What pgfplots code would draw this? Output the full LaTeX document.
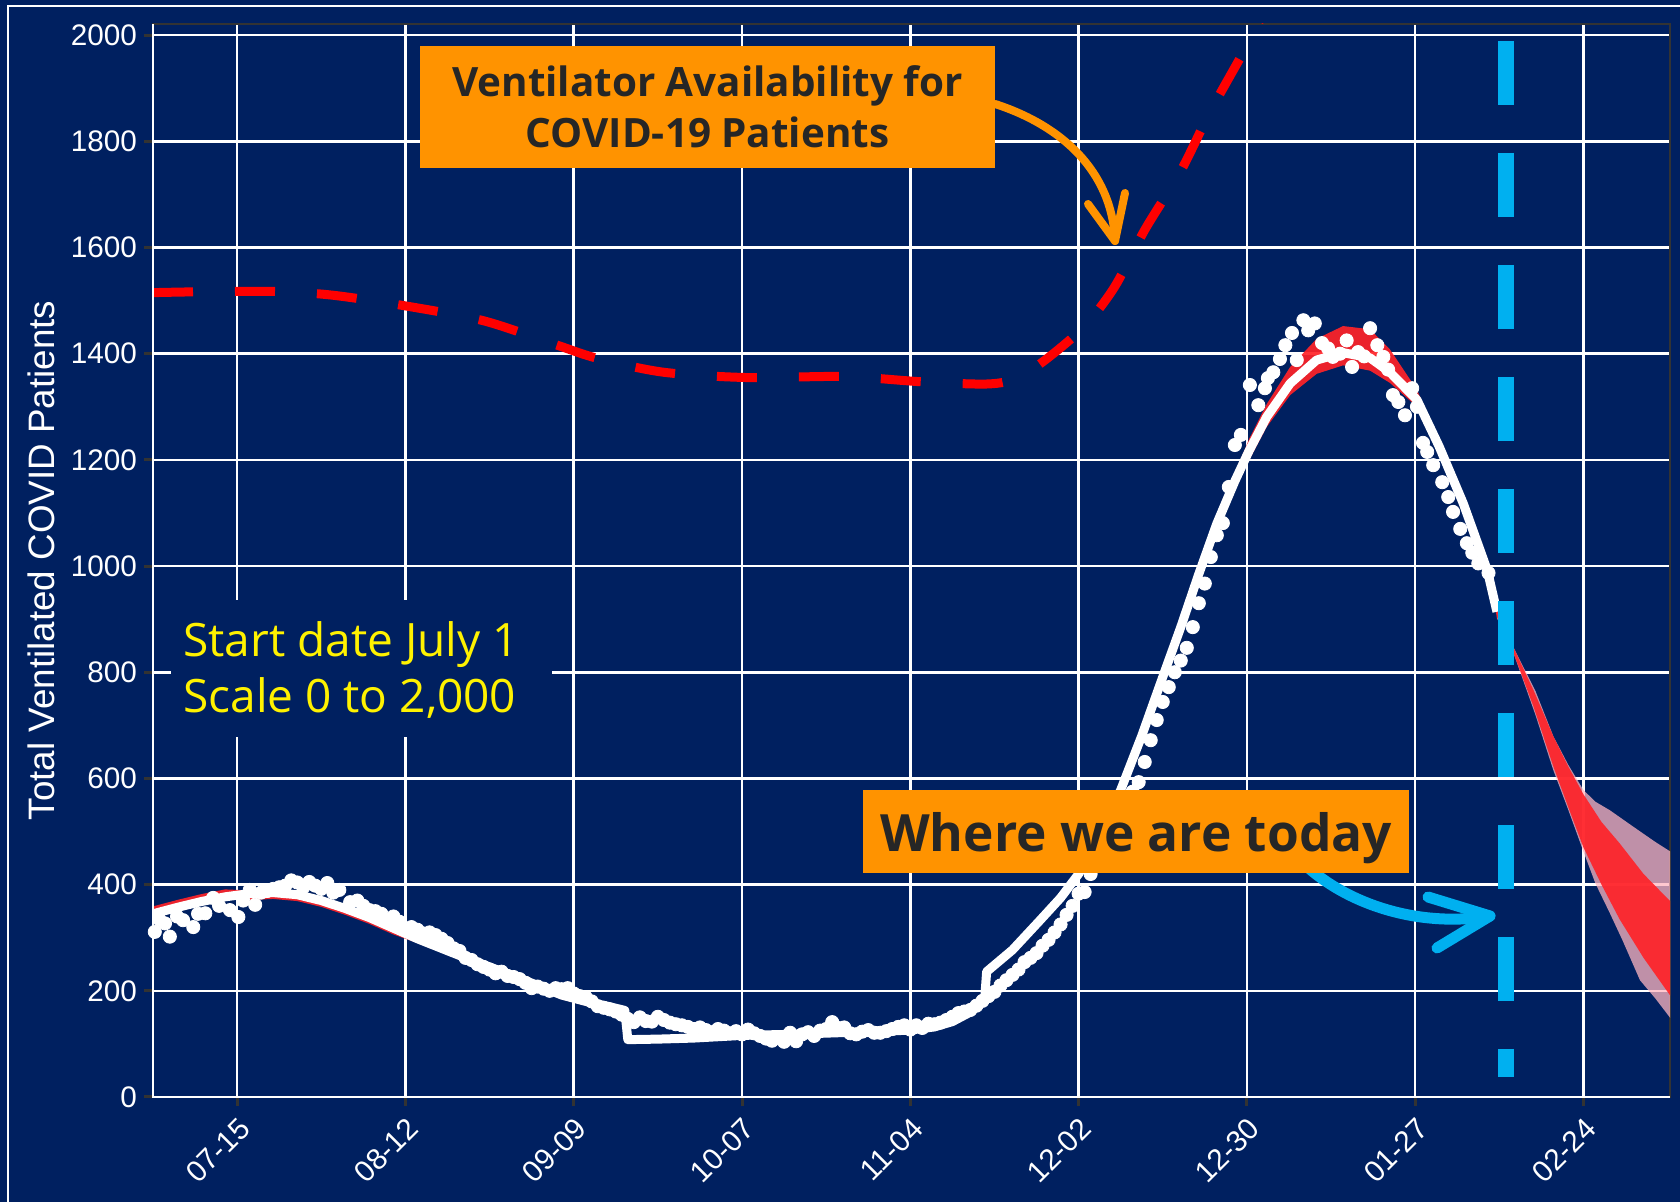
\documentclass[border=0pt]{standalone}
\usepackage{fontspec}
\setmainfont{Liberation Sans}
\newfontfamily\ann{Open Sans}
\usepackage{pgfplots}
\pgfplotsset{compat=1.18}

\definecolor{navy}{RGB}{0,32,96}
\definecolor{tickgray}{RGB}{51,51,51}
\definecolor{boxorange}{RGB}{255,147,0}
\definecolor{boxtext}{RGB}{38,38,38}
\definecolor{todayblue}{RGB}{0,176,240}
\definecolor{bandred}{RGB}{255,35,40}
\definecolor{bandpink}{RGB}{255,182,193}

\begin{document}
\begin{tikzpicture}
\fill[navy] (0,0) rectangle (840pt,601pt);
\useasboundingbox (0,0) rectangle (840pt,601pt);
\draw[white, line width=1pt] (4pt,-5pt) -- (4pt,598pt) -- (845pt,598pt);

\begin{axis}[
  at={(76.5pt,52.5pt)}, anchor=south west,
  scale only axis, width=758.5pt, height=536.5pt,
  xmin=0, xmax=252.4, ymin=0, ymax=2021,
  axis line style={draw=tickgray, line width=1pt},
  grid=major, major grid style={white, line width=1.3pt},
  tick align=outside, major tick length=4.5pt,
  tick style={draw=tickgray, line width=1.5pt},
  tick pos=left,
  xtick={14,42,70,98,126,154,182,210,238},
  xticklabels={07-15,08-12,09-09,10-07,11-04,12-02,12-30,01-27,02-24},
  ytick={0,200,...,2000},
  /pgf/number format/1000 sep={},
  /pgf/number format/assume math mode=true,
  ticklabel style={white, font=\fontsize{14.85}{17}\selectfont},
  xticklabel style={rotate=45, anchor=north east},
  ylabel={Total Ventilated COVID Patients},
  ylabel style={white, font=\fontsize{18.4}{22}\selectfont,
    at={(axis description cs:-0.0738,0.5)}, anchor=center},
]

% wide projection band
\addplot[draw=none, fill=bandpink, fill opacity=0.75] coordinates {
(223.6,922)(226.3,848)(230,765)(233,679)(235.5,625)(238,578)(240,556)(242.4,540)(246.3,509)(250,480)(252.5,462)
(252.5,148)(250,185)(247.4,220)(244.5,295)(242.4,346)(240,402)(238,462)(235.5,540)(233,615)(230,720)(226.3,838)(223.6,902)
} -- cycle;

% model interval
\addplot[draw=none, fill=bandred, fill opacity=0.92] coordinates {
(0,359)(4,371)(8,382)(12,391)(16,389)(20,391)(24,387)(28,376)(32,361)(36,344)(40,324)(44,304)
(48,286)(52,268)(56,251)(60,234)(64,216)(68,198)(72,186)(76,176)(78.5,170)(79,115)(84,116)
(90,118)(98,123)(106,125)(114,128)(120,130)(126,133)(130,139)(133,149)(136,167)(138.4,196)
(138.7,243)(143,284)(147.6,340)(151,383)(154,428)(157.5,504)(161,588)(164.5,690)(168,801)
(171,896)(174,996)(177,1092)(180,1175)(182.4,1240)(185.3,1305)(189.2,1375)(193.6,1428)
(198,1452)(202.5,1446)(205.8,1408)(210.3,1332)(214,1238)(218,1128)(222,1000)(223.6,922)
(226.3,848)(229.7,766)(233,679)(235.5,622)(238,570)(241,518)(244,478)(248,420)(252.5,368)
(252.5,190)(248,262)(244,335)(241,400)(238,470)(235.5,545)(233,622)(229.7,735)(226.3,838)(223.6,904)(222,982)
(218,1108)(214,1215)(210.3,1300)(205.8,1345)(202.5,1368)(198,1378)(193.6,1362)(189.2,1322)
(185.3,1262)(182.4,1200)(180,1148)(177,1068)(174,974)(171,874)(168,780)(164.5,670)(161,568)
(157.5,486)(154,412)(151,367)(147.6,325)(143,270)(138.7,229)(138.4,182)(136,153)(133,135)
(130,125)(126,119)(120,116)(114,114)(106,111)(98,109)(90,104)(84,102)(79,101)(78.5,155)
(76,162)(72,172)(68,184)(64,202)(60,220)(56,237)(52,254)(48,272)(44,290)(40,306)(36,326)
(32,343)(28,358)(24,369)(20,373)(16,371)(12,372)(8,363)(4,352)(0,340)
} -- cycle;

% model fit
\addplot[white, line width=4.5pt, line join=round] coordinates {
(0,345)(4,357)(8,368)(12,377)(16,383)(20,385)(24,381)(28,370)(32,355)(36,338)(40,318)
(44,298)(48,280)(52,262)(56,245)(60,228)(64,210)(68,192)(72,180)(76,170)(78.5,163)(79,108)
(84,109)(90,111)(98,116)(106,118)(114,121)(120,123)(126,126)(130,132)(133,142)(136,160)
(138.4,189)(138.7,236)(143,277)(147.6,333)(151,375)(154,420)(157.5,495)(161,578)(164.5,680)
(168,791)(171,885)(174,985)(177,1080)(180,1160)(182.4,1218)(185.3,1281)(189.2,1344)
(193.6,1388)(198,1402)(202.5,1392)(205.8,1365)(210.3,1313)(214,1225)(218,1118)(222,992)
(223.6,914)
};

% observed patients
\addplot[only marks, mark=*, mark size=3.3pt, mark options={draw=white, fill=white}] coordinates {
(0.3,311)(1,335)(2,327)(2.8,302)(4,340)(5,333)(6.7,320)(7.5,345)(8.7,346)(10,375)(11,360)
(12.8,352)(14.2,339)(15,370)(16.1,390)(17,362)(18,385)(19,388)(20,392)(21,395)(22,398)
(23,408)(24,404)(25,395)(26,405)(27,398)(28,392)(29,403)(30,385)(31,390)(32.8,367)(34,370)
(35,360)(36,352)(37,350)(38,345)(39,333)(40,340)(41,330)(42,318)(43,320)(44,315)(45,308)
(46,310)(47,305)(48,298)(49,290)(50,280)(51,275)(52,262)(53,258)(54,250)(55,245)(56,240)
(57,233)(58,236)(59,228)(60,226)(61,222)(62,215)(63,205)(64,208)(65,204)(66,200)(67,205)
(68,203)(69,205)(70,195)(71,190)(72,188)(73,180)(74,171)(75,168)(76,165)(77,161)(78,155)
(79,147)(80,141)(81,150)(82,143)(83,142)(84,151)(85,145)(86,140)(87,137)(88,135)(89,132)
(90,128)(91,131)(92,126)(93,122)(94,128)(95,125)(96,120)(97,124)(98,118)(99,127)(100,120)
(101,115)(102,110)(103,106)(104,112)(105,104)(106,121)(107,105)(108,118)(109,122)(110,115)
(111,125)(112,128)(113,141)(114,130)(115,131)(116,120)(117,118)(118,123)(119,126)(120,121)
(121,121)(122,124)(123,128)(124,132)(125,135)(126,127)(127,135)(128,130)(129,138)(130,137)
(131,140)(132,145)(133,151)(134,158)(135,161)(136,164)(137,172)(138,181)(139,190)(140,198)
(141,210)(142,220)(143,230)(144,240)(145,254)(146,262)(147,271)(148,285)(149,296)(150,310)
(151,325)(152,343)(153,360)(154,383)(155,386)(156,420)(157,445)(158,470)(159,495)(160,515)
(161,540)(162,560)(163,575)(164,593)(165,631)(166,672)(167,710)(168,744)(169,772)(170,800)
(171,822)(172,846)(173,885)(174,930)(175,967)(176,1017)(177,1058)(178,1081)(179,1149)
(180,1228)(181,1247)(182.5,1341)(183.9,1303)(185,1335)(185.5,1354)(186.4,1365)(187.5,1390)
(188.4,1416)(189.5,1439)(190.3,1388)(191.4,1463)(192.2,1444)(193.3,1457)(194.5,1420)
(195.5,1410)(196.3,1394)(197.5,1400)(198.6,1425)(199.5,1375)(200.5,1403)(201.5,1395)
(202.5,1448)(203.7,1416)(204.7,1394)(205.5,1370)(206.3,1322)(207.2,1309)(208.3,1284)
(209.5,1335)(210.3,1300)(211.3,1232)(212,1215)(213,1190)(214.5,1158)(215.5,1130)
(216.3,1102)(217.5,1070)(218.6,1043)(219.5,1025)(220.5,1005)(222.2,987)
};

% today
\addplot[todayblue, line width=7.85pt, dash pattern=on 32pt off 24pt] coordinates {(225.1,1989)(225.1,38)};

% ventilator availability
\addplot[red, line width=4.5pt, dash pattern=on 20pt off 21pt, smooth, tension=0.5] coordinates {
(0,1515)(10,1517)(21,1517)(30,1510)(42,1490)(55,1462)(67,1417)(74,1391)(85,1365)(99,1355)
(115,1357)(128,1347)(139,1343)(144,1355)(149,1393)(155,1452)(160,1526)(165,1633)(171,1744)
(176,1858)(182.5,1990)(185,2050)
};
\end{axis}

\draw[white, line width=1.3pt] (76.5pt,589pt) -- (76.5pt,52.5pt) -- (835pt,52.5pt);

% arrows
\draw[boxorange, line width=4pt, line cap=round, line join=round]
  (497.5pt,549pt) .. controls (530pt,538.5pt) and (556pt,516pt) .. (557.5pt,480.5pt);
\draw[boxorange, line width=4pt, line cap=round, line join=round]
  (544pt,499pt) -- (557.5pt,480.5pt) -- (562.5pt,504.5pt);
\draw[todayblue, line width=5.5pt, line cap=round, line join=round]
  (650pt,171pt) .. controls (672.5pt,148.5pt) and (710pt,137pt) .. (745pt,143pt);
\draw[todayblue, line width=5.5pt, line cap=round, line join=round]
  (714pt,152.5pt) -- (745pt,143pt) -- (718.5pt,127pt);

% labels
\fill[boxorange] (210pt,517pt) rectangle (497.5pt,578pt);
\node[anchor=base, inner sep=0, text=boxtext, font=\ann\bfseries\fontsize{20.2}{24}\selectfont]
  at (353.75pt,552.65pt) {Ventilator Availability for};
\node[anchor=base, inner sep=0, text=boxtext, font=\ann\bfseries\fontsize{20.2}{24}\selectfont]
  at (353.75pt,527pt) {COVID-19 Patients};

\fill[boxorange] (431.7pt,164.35pt) rectangle (704.35pt,206pt);
\node[anchor=base, inner sep=0, text=boxtext, font=\ann\bfseries\fontsize{25.7}{30}\selectfont]
  at (568pt,175.15pt) {Where we are today};

\fill[navy] (85.5pt,232.5pt) rectangle (276pt,301pt);
\node[anchor=base west, inner sep=0, text=yellow, font=\ann\fontsize{23}{26}\selectfont]
  at (91.5pt,272.65pt) {Start date July 1};
\node[anchor=base west, inner sep=0, text=yellow, font=\ann\fontsize{23}{26}\selectfont]
  at (91.5pt,244.5pt) {Scale 0 to 2,000};
\end{tikzpicture}
\end{document}
